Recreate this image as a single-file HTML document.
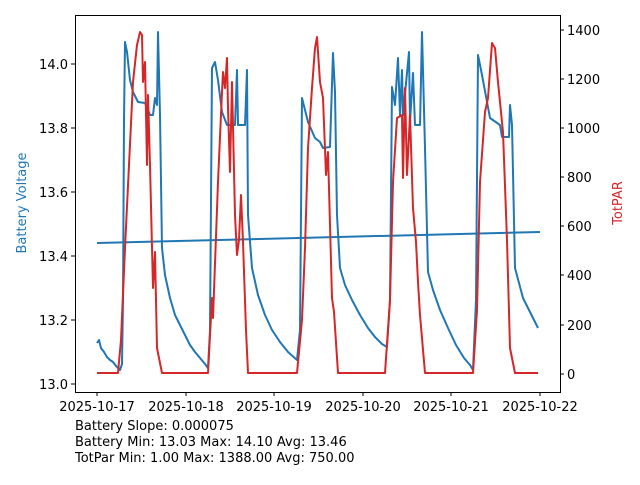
<!DOCTYPE html><html><head><style>body{margin:0;background:#fff}svg{font-family:"DejaVu Sans","Liberation Sans",sans-serif}</style></head><body>
<svg width="640" height="480" viewBox="0 0 640 480" xmlns="http://www.w3.org/2000/svg">
<rect width="640" height="480" fill="#fff"/>
<g fill="none" stroke-linejoin="round" stroke-width="2">
<polyline stroke="#1f77b4" points="97,343 99,340 101,348 104,352 107,357 110,360 113,362 116,366 118,368 120,370 122,364 123,300 124,120 125,42 127,52 130,80 133,92 138,102 145,103 148,110 150,115 153,115 155,98 157,105 158,32 160,115 162,248 165,275 170,298 175,315 180,325 185,335 190,345 195,352 200,358 205,364 208,368 210,330 212,68 215,62 218,80 222,112 227,125 235,125 237,70 238,125 245,125 247,70 248,215 252,268 258,295 265,315 272,330 280,342 288,352 297,360 300,330 302,98 308,122 315,138 320,142 323,148 330,147 333,53 335,92 337,215 340,268 345,285 352,300 360,315 368,328 375,337 382,344 387,347 390,300 392,87 395,105 398,58 400,115 402,70 403,115 409,52 410,122 413,73 415,125 420,125 422,32 425,148 428,272 433,290 440,310 448,328 456,345 464,358 470,365 473,370 476,300 478,55 482,75 490,118 500,125 502,137 509,137 510,105 512,125 515,268 523,298 530,312 538,328"/>
<polyline stroke="#1f77b4" points="97,243 540,232"/>
<polyline stroke="#d62728" points="97,373 118,373 121,340 125,248 133,82 137,45 140,32 142,35 143,82 145,62 147,165 148,95 150,165 153,288 155,252 157,348 162,373 208,373 212,298 213,318 218,182 222,92 223,72 225,88 227,58 228,108 230,172 232,82 235,215 237,255 239,240 241,195 243,242 246,330 248,373 297,373 302,320 305,248 308,148 312,88 315,48 317,37 320,82 323,98 326,175 328,152 332,298 334,312 338,373 385,373 390,300 393,182 397,118 402,115 403,178 405,88 407,175 410,115 413,208 416,242 418,282 420,315 425,373 473,373 477,310 480,182 485,112 488,98 492,43 495,48 498,82 503,132 507,240 510,348 515,373 538,373"/>
</g>
<rect x="75.5" y="15.5" width="485" height="377" fill="none" stroke="#000" stroke-width="1"/>
<g stroke="#000" stroke-width="1">
<line x1="75" y1="64" x2="71" y2="64"/><line x1="75" y1="128" x2="71" y2="128"/><line x1="75" y1="192" x2="71" y2="192"/><line x1="75" y1="256" x2="71" y2="256"/><line x1="75" y1="320" x2="71" y2="320"/><line x1="75" y1="384" x2="71" y2="384"/>
<line x1="560" y1="30" x2="564" y2="30"/><line x1="560" y1="79" x2="564" y2="79"/><line x1="560" y1="128" x2="564" y2="128"/><line x1="560" y1="177" x2="564" y2="177"/><line x1="560" y1="226" x2="564" y2="226"/><line x1="560" y1="275" x2="564" y2="275"/><line x1="560" y1="325" x2="564" y2="325"/><line x1="560" y1="374" x2="564" y2="374"/>
<line x1="97" y1="392" x2="97" y2="396"/><line x1="186" y1="392" x2="186" y2="396"/><line x1="274" y1="392" x2="274" y2="396"/><line x1="363" y1="392" x2="363" y2="396"/><line x1="451" y1="392" x2="451" y2="396"/><line x1="540" y1="392" x2="540" y2="396"/>
</g>
<g font-size="13" fill="#000" text-anchor="end">
<text x="68" y="69">14.0</text><text x="68" y="133">13.8</text><text x="68" y="197">13.6</text><text x="68" y="261">13.4</text><text x="68" y="325">13.2</text><text x="68" y="389">13.0</text>
</g>
<g font-size="13" fill="#000">
<text x="567" y="35">1400</text><text x="567" y="84">1200</text><text x="567" y="133">1000</text><text x="567" y="182">800</text><text x="567" y="231">600</text><text x="567" y="280">400</text><text x="567" y="330">200</text><text x="567" y="379">0</text>
</g>
<g font-size="13" fill="#000" text-anchor="middle">
<text x="97" y="411">2025-10-17</text><text x="186" y="411">2025-10-18</text><text x="274" y="411">2025-10-19</text><text x="363" y="411">2025-10-20</text><text x="451" y="411">2025-10-21</text><text x="540" y="411">2025-10-22</text>
</g>
<text transform="translate(26,203) rotate(-90)" font-size="13" fill="#1f77b4" text-anchor="middle">Battery Voltage</text>
<text transform="translate(622,203) rotate(-90)" font-size="13" fill="#d62728" text-anchor="middle">TotPAR</text>
<g font-size="13" fill="#000">
<text x="75" y="430">Battery Slope: 0.000075</text>
<text x="75" y="446">Battery Min: 13.03 Max: 14.10 Avg: 13.46</text>
<text x="75" y="462">TotPar Min: 1.00 Max: 1388.00 Avg: 750.00</text>
</g>
</svg></body></html>
